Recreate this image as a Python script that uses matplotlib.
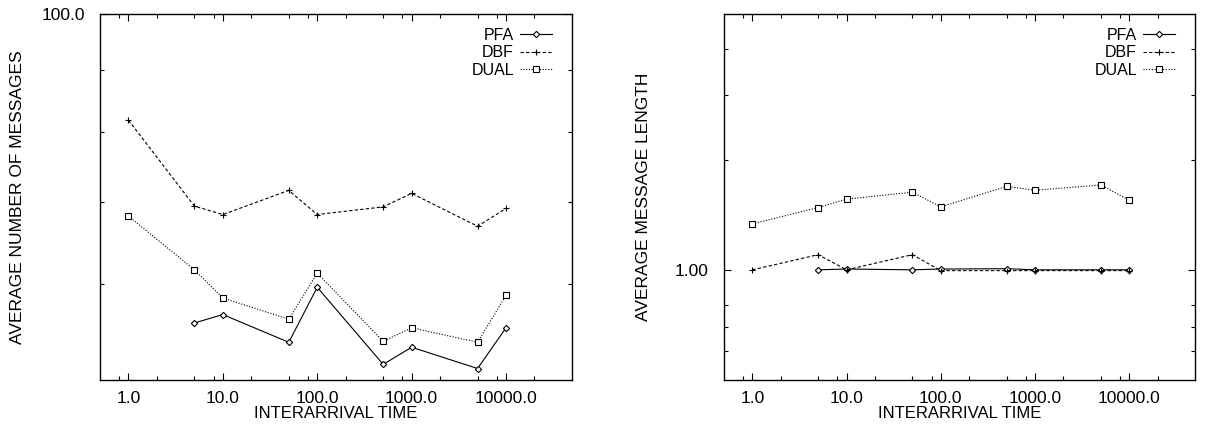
import matplotlib
matplotlib.use("Agg")
import matplotlib.pyplot as plt
from matplotlib.ticker import FixedLocator, FixedFormatter, NullFormatter

plt.rcParams['font.family'] = ['Liberation Sans', 'DejaVu Sans']

# interarrival times
x_all = [1, 5, 10, 50, 100, 500, 1000, 5000, 10000]
x_pfa = [5, 10, 50, 100, 500, 1000, 5000, 10000]

# left panel: average number of messages
msg_pfa = [55.7, 56.6, 53.7, 59.6, 51.5, 53.2, 51.1, 55.2]
msg_dbf = [81.8, 69.5, 68.4, 71.6, 68.4, 69.4, 71.2, 66.9, 69.2]
msg_dual = [68.2, 61.6, 58.4, 56.1, 61.2, 53.8, 55.2, 53.7, 58.7]

# right panel: average message length
len_pfa = [1.00, 1.005, 1.00, 1.005, 1.007, 1.00, 1.00, 1.00]
len_dbf = [1.00, 1.10, 1.00, 1.10, 0.995, 0.995, 0.995, 0.995, 0.995]
len_dual = [1.335, 1.48, 1.56, 1.63, 1.486, 1.69, 1.65, 1.705, 1.55]

x_major = [1, 10, 100, 1000, 10000]
x_labels = ['1.0', '10.0', '100.0', '1000.0', '10000.0']
x_minor = [0.8, 2, 5, 8, 20, 50, 80, 200, 500, 800, 2000, 5000, 8000, 20000]

fig = plt.figure(figsize=(12.07, 4.25), dpi=100)
ax1 = fig.add_axes([100 / 1207, 1 - 380 / 425, 472 / 1207, 366 / 425])
ax2 = fig.add_axes([724 / 1207, 1 - 380 / 425, 471 / 1207, 366 / 425])


def draw(ax, pfa, dbf, dual):
    ax.plot(x_pfa, pfa, color='black', lw=0.8, marker='D', ms=3.2,
            mfc='white', mew=0.8, label='PFA')
    ax.plot(x_all, dbf, color='black', lw=0.8, dashes=(3, 2), marker='+',
            ms=5, mew=0.8, label='DBF')
    ax.plot(x_all, dual, color='black', lw=0.8, dashes=(1, 1.5), marker='s',
            ms=4, mfc='white', mew=0.8, label='DUAL')
    ax.set_xscale('log')
    ax.set_yscale('log')
    ax.set_xlim(0.5, 50000)
    ax.xaxis.set_major_locator(FixedLocator(x_major))
    ax.xaxis.set_major_formatter(FixedFormatter(x_labels))
    ax.xaxis.set_minor_locator(FixedLocator(x_minor))
    ax.xaxis.set_minor_formatter(NullFormatter())
    ax.tick_params(which='both', direction='in', top=True, right=True,
                   labelsize=12.5, width=0.8)
    ax.tick_params(axis='x', which='both', pad=8)
    ax.tick_params(axis='y', which='both', pad=11)
    ax.tick_params(which='major', length=5)
    ax.tick_params(which='minor', length=3)
    for s in ax.spines.values():
        s.set_linewidth(1.0)
    ax.set_xlabel('INTERARRIVAL TIME', fontsize=12, labelpad=0)
    leg = ax.legend(loc='upper right', bbox_to_anchor=(0.972, 0.98),
                    frameon=False, markerfirst=False, fontsize=11.5,
                    handlelength=2.0, handletextpad=0.4, labelspacing=0.15,
                    borderaxespad=0)
    for t in leg.get_texts():
        t.set_ha('right')


draw(ax1, msg_pfa, msg_dbf, msg_dual)
ax1.set_ylim(50, 100)
ax1.yaxis.set_major_locator(FixedLocator([100]))
ax1.yaxis.set_major_formatter(FixedFormatter(['100.0']))
ax1.yaxis.set_minor_locator(FixedLocator([60, 70, 80, 90]))
ax1.yaxis.set_minor_formatter(NullFormatter())
fig.text(18 / 1207, 1 - 197 / 425, 'AVERAGE NUMBER OF MESSAGES', fontsize=12.5,
         rotation=90, ha='center', va='center')

draw(ax2, len_pfa, len_dbf, len_dual)
ax2.set_ylim(0.5, 5)
ax2.yaxis.set_major_locator(FixedLocator([1]))
ax2.yaxis.set_major_formatter(FixedFormatter(['1.00']))
ax2.yaxis.set_minor_locator(FixedLocator([0.6, 0.7, 0.8, 2, 3, 4]))
ax2.yaxis.set_minor_formatter(NullFormatter())
fig.text(643 / 1207, 1 - 197 / 425, 'AVERAGE MESSAGE LENGTH', fontsize=12.5,
         rotation=90, ha='center', va='center')

fig.savefig('out.png', dpi=100)
